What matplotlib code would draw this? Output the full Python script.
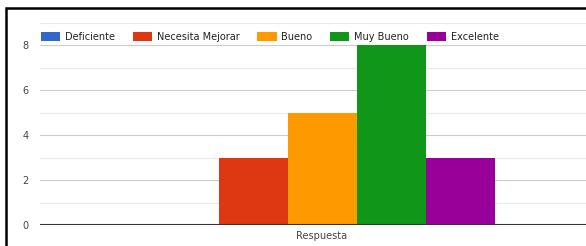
import matplotlib
matplotlib.use("Agg")
import matplotlib.pyplot as plt
from matplotlib.patches import Rectangle

categories = ["Deficiente", "Necesita Mejorar", "Bueno", "Muy Bueno", "Excelente"]
values = [0, 3, 5, 8, 3]
colors = ["#3366cc", "#dc3912", "#ff9900", "#109618", "#990099"]
group_label = "Respuesta"
yticks = [0, 2, 4, 6, 8]

W, H = 586, 246
fig = plt.figure(figsize=(W / 100, H / 100), dpi=100)
fig.patch.set_facecolor("white")

ax = fig.add_axes([40 / W, 1 - 225 / H, (604 - 40) / W, (225 - 23) / H])
n = len(categories)
bw = 1.0
handles = []
for i, (c, v, col) in enumerate(zip(categories, values, colors)):
    h = ax.bar((i - (n - 1) / 2) * bw, v, width=bw, color=col, label=c, zorder=3)
    handles.append(h)

half = 282 / 69
ax.set_xlim(-half, half)
ax.set_ylim(0, 9)
ax.set_yticks(yticks)
ax.set_yticks([1, 3, 5, 7, 9], minor=True)
ax.set_xticks([0])
ax.set_xticklabels([group_label])
ax.tick_params(axis="both", length=0, labelsize=7, colors="#444444")
ax.tick_params(axis="y", which="minor", length=0)
ax.tick_params(axis="x", pad=4)
ax.tick_params(axis="y", pad=8)
ax.grid(axis="y", which="major", color="#cccccc", lw=0.8, zorder=0)
ax.grid(axis="y", which="minor", color="#ebebeb", lw=0.8, zorder=0)
for s in ax.spines.values():
    s.set_visible(False)
ax.axhline(0, color="#333333", lw=1.5, zorder=4)
ax.set_facecolor("white")

fig.legend(handles=handles, labels=categories, loc="center left",
           bbox_to_anchor=(32 / W, 1 - 37 / H), ncol=5, frameon=False,
           fontsize=7, handlelength=2.0, handleheight=1.0, columnspacing=1.8,
           handletextpad=0.5, labelcolor="#222222")

fig.add_artist(Rectangle((6 / W, -0.1), 1.2, 1 - 8 / H + 0.1, transform=fig.transFigure,
                         fill=False, edgecolor="black", lw=1.8, zorder=10))

fig.savefig("out.png", dpi=100)
